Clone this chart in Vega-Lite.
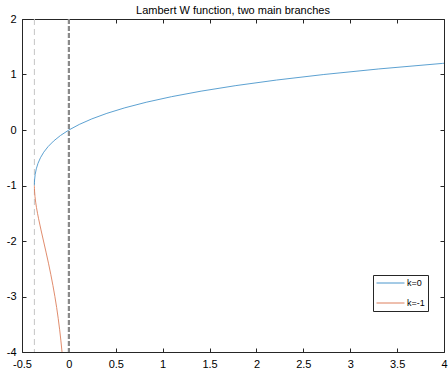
{
  "$schema": "https://vega.github.io/schema/vega-lite/v6.json",
  "width": 422,
  "height": 333,
  "autosize": {"type": "none"},
  "padding": {"left": 22, "top": 19, "right": 4, "bottom": 19},
  "title": {"text": "Lambert W function, two main branches", "fontSize": 11, "fontWeight": "normal", "font": "Liberation Sans", "color": "#000", "offset": -3},
  "config": {
    "view": {"stroke": "#262626", "strokeWidth": 1},
    "axis": {"domain": false, "grid": false, "tickSize": -4, "tickColor": "#262626", "labelFont": "Liberation Sans", "labelFontSize": 11, "labelColor": "#000", "title": null, "labelPadding": 10, "labelFlush": false, "labelOverlap": false, "labelExpr": "'' + datum.value"},
    "legend": {"orient": "none", "legendX": 351, "legendY": 256, "strokeColor": "#262626", "fillColor": "#fff", "padding": 3, "symbolType": "stroke", "symbolStrokeWidth": 1, "symbolSize": 784, "clipHeight": 10, "labelFont": "Liberation Sans", "labelFontSize": 9, "labelColor": "#000", "rowPadding": 10, "labelOffset": 2}
  },
  "datasets": {
    "curves": [
      {"k": "k=0", "i": 0, "x": -0.36788, "w": -1},
      {"k": "k=0", "i": 1, "x": -0.36786, "w": -0.99},
      {"k": "k=0", "i": 2, "x": -0.36780, "w": -0.98},
      {"k": "k=0", "i": 3, "x": -0.36741, "w": -0.95},
      {"k": "k=0", "i": 4, "x": -0.36591, "w": -0.9},
      {"k": "k=0", "i": 5, "x": -0.35946, "w": -0.8},
      {"k": "k=0", "i": 6, "x": -0.34761, "w": -0.7},
      {"k": "k=0", "i": 7, "x": -0.32929, "w": -0.6},
      {"k": "k=0", "i": 8, "x": -0.30327, "w": -0.5},
      {"k": "k=0", "i": 9, "x": -0.26813, "w": -0.4},
      {"k": "k=0", "i": 10, "x": -0.22225, "w": -0.3},
      {"k": "k=0", "i": 11, "x": -0.16375, "w": -0.2},
      {"k": "k=0", "i": 12, "x": -0.09048, "w": -0.1},
      {"k": "k=0", "i": 13, "x": 0, "w": 0},
      {"k": "k=0", "i": 14, "x": 0.11052, "w": 0.1},
      {"k": "k=0", "i": 15, "x": 0.24428, "w": 0.2},
      {"k": "k=0", "i": 16, "x": 0.40496, "w": 0.3},
      {"k": "k=0", "i": 17, "x": 0.59673, "w": 0.4},
      {"k": "k=0", "i": 18, "x": 0.82436, "w": 0.5},
      {"k": "k=0", "i": 19, "x": 1.09327, "w": 0.6},
      {"k": "k=0", "i": 20, "x": 1.40963, "w": 0.7},
      {"k": "k=0", "i": 21, "x": 1.78043, "w": 0.8},
      {"k": "k=0", "i": 22, "x": 2.21364, "w": 0.9},
      {"k": "k=0", "i": 23, "x": 2.71828, "w": 1.0},
      {"k": "k=0", "i": 24, "x": 3.30459, "w": 1.1},
      {"k": "k=0", "i": 25, "x": 3.98414, "w": 1.2},
      {"k": "k=0", "i": 26, "x": 4.0, "w": 1.2022},
      {"k": "k=-1", "i": 0, "x": -0.36788, "w": -1},
      {"k": "k=-1", "i": 1, "x": -0.36786, "w": -1.01},
      {"k": "k=-1", "i": 2, "x": -0.36779, "w": -1.02},
      {"k": "k=-1", "i": 3, "x": -0.36744, "w": -1.05},
      {"k": "k=-1", "i": 4, "x": -0.36616, "w": -1.1},
      {"k": "k=-1", "i": 5, "x": -0.36143, "w": -1.2},
      {"k": "k=-1", "i": 6, "x": -0.35429, "w": -1.3},
      {"k": "k=-1", "i": 7, "x": -0.34524, "w": -1.4},
      {"k": "k=-1", "i": 8, "x": -0.33470, "w": -1.5},
      {"k": "k=-1", "i": 9, "x": -0.32304, "w": -1.6},
      {"k": "k=-1", "i": 10, "x": -0.29754, "w": -1.8},
      {"k": "k=-1", "i": 11, "x": -0.27067, "w": -2.0},
      {"k": "k=-1", "i": 12, "x": -0.24377, "w": -2.2},
      {"k": "k=-1", "i": 13, "x": -0.21772, "w": -2.4},
      {"k": "k=-1", "i": 14, "x": -0.19311, "w": -2.6},
      {"k": "k=-1", "i": 15, "x": -0.17027, "w": -2.8},
      {"k": "k=-1", "i": 16, "x": -0.14936, "w": -3.0},
      {"k": "k=-1", "i": 17, "x": -0.13044, "w": -3.2},
      {"k": "k=-1", "i": 18, "x": -0.11347, "w": -3.4},
      {"k": "k=-1", "i": 19, "x": -0.09836, "w": -3.6},
      {"k": "k=-1", "i": 20, "x": -0.08501, "w": -3.8},
      {"k": "k=-1", "i": 21, "x": -0.07326, "w": -4.0}
    ]
  },
  "layer": [
    {
      "data": {"values": [{"x": -0.36788}]},
      "mark": {"type": "rule", "color": "#c4c4c4", "strokeWidth": 1, "strokeDash": [6, 4]},
      "encoding": {"x": {"field": "x", "type": "quantitative", "scale": {"domain": [-0.5, 4], "nice": false, "zero": false}, "axis": {"orient": "bottom", "values": [-0.5, 0, 0.5, 1, 1.5, 2, 2.5, 3, 3.5, 4]}}}
    },
    {
      "data": {"values": [{"x": 0}]},
      "mark": {"type": "rule", "color": "#8a8a8a", "strokeWidth": 2.2, "strokeDash": [5, 2]},
      "encoding": {"x": {"field": "x", "type": "quantitative", "axis": null}}
    },
    {
      "data": {"name": "curves"},
      "mark": {"type": "line", "strokeWidth": 0.9, "clip": true},
      "encoding": {
        "x": {"field": "x", "type": "quantitative", "axis": null},
        "y": {"field": "w", "type": "quantitative", "scale": {"domain": [-4, 2], "nice": false, "zero": false}, "axis": {"orient": "left", "values": [-4, -3, -2, -1, 0, 1, 2]}},
        "color": {"field": "k", "type": "nominal", "scale": {"domain": ["k=0", "k=-1"], "range": ["#4a96cc", "#dd7f5c"]}, "legend": {"title": null}},
        "order": {"field": "i", "type": "quantitative"}
      }
    },
    {
      "data": {"name": "curves"},
      "mark": {"type": "point", "opacity": 0},
      "encoding": {
        "x": {"field": "x", "type": "quantitative", "axis": {"orient": "top", "labels": false, "values": [-0.5, 0, 0.5, 1, 1.5, 2, 2.5, 3, 3.5, 4]}},
        "y": {"field": "w", "type": "quantitative", "axis": {"orient": "right", "labels": false, "values": [-4, -3, -2, -1, 0, 1, 2]}}
      }
    }
  ],
  "resolve": {"axis": {"x": "independent", "y": "independent"}}
}
